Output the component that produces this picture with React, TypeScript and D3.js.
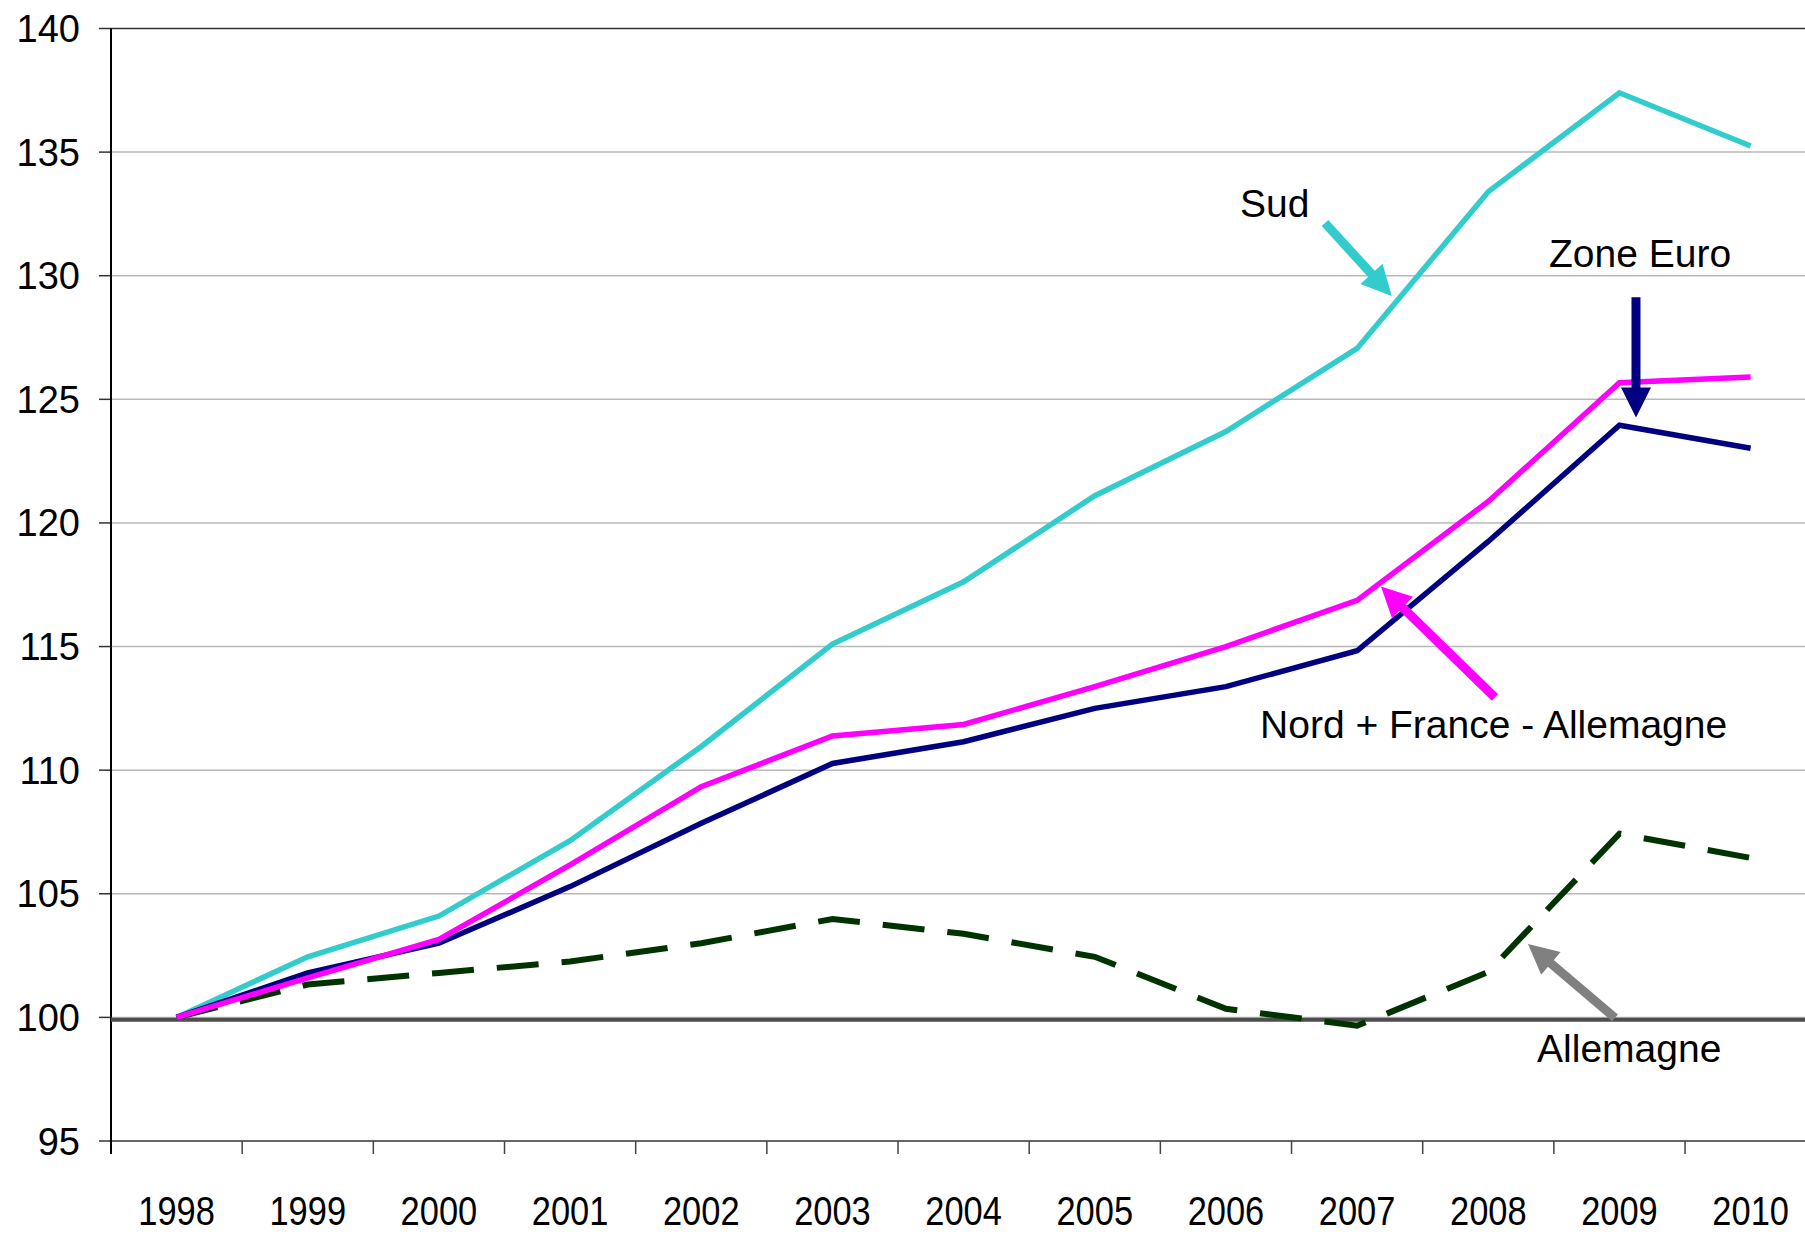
import React from "react";
import * as d3 from "d3";

const years = ["1998","1999","2000","2001","2002","2003","2004","2005","2006","2007","2008","2009","2010"];
const sud = [100, 102.45, 104.1, 107.15, 110.96, 115.1, 117.62, 121.1, 123.7, 127.06, 133.4, 137.4, 135.25];
const nordFrance = [100, 101.6, 103.15, 106.17, 109.33, 111.38, 111.85, 113.38, 115.0, 116.87, 120.87, 125.67, 125.9];
const zoneEuro = [100, 101.8, 103.0, 105.29, 107.85, 110.27, 111.15, 112.5, 113.38, 114.83, 119.25, 123.95, 123.02];
const allemagne = [100, 101.33, 101.8, 102.26, 103.0, 103.98, 103.38, 102.45, 100.35, 99.66, 101.84, 107.43, 106.45];
const yTicks = [95, 100, 105, 110, 115, 120, 125, 130, 135, 140];
const baseline = 99.9;

// annotations in data space: [index, value]
const labels = [
  { text: "Sud", at: [8.107, 132.37] },
  { text: "Zone Euro", at: [10.463, 130.34] },
  { text: "Nord + France - Allemagne", at: [8.26, 111.32] },
  { text: "Allemagne", at: [10.372, 98.2] },
];
const arrows = [
  { from: [8.755, 132.13], to: [9.264, 129.18], color: "#33CCCC" },
  { from: [11.126, 129.13], to: [11.126, 124.27], color: "#000080" },
  { from: [10.051, 112.94], to: [9.182, 117.43], color: "#FF00FF" },
  { from: [10.966, 99.98], to: [10.303, 102.97], color: "#808080" },
];

const W = 1805, H = 1234;
const left = 111, top = 28.5, bottom = 1141;
const step = 131.17;

export default function App() {
  const x = d3.scaleBand().domain(years).range([left, left + step * years.length]).padding(0);
  const y = d3.scaleLinear().domain([95, 140]).range([bottom, top]);
  const cx = (i: number) => left + (i + 0.5) * x.bandwidth();
  const line = d3.line<number>().x((_, i) => (x(years[i]) as number) + x.bandwidth() / 2).y((d) => y(d));
  const font = "'Liberation Sans', Arial, sans-serif";

  const arrowShape = (a: any, key: number) => {
    const x1 = cx(a.from[0]), y1 = y(a.from[1]);
    const x2 = cx(a.to[0]), y2 = y(a.to[1]);
    const dx = x2 - x1, dy = y2 - y1;
    const len = Math.sqrt(dx * dx + dy * dy);
    const ux = dx / len, uy = dy / len;
    const hl = 30, hw = 15;
    const bx = x2 - ux * hl, by = y2 - uy * hl;
    const px = -uy, py = ux;
    const pts = [[x2, y2], [bx + px * hw, by + py * hw], [bx - px * hw, by - py * hw]];
    return (
      <g key={key}>
        <line x1={x1} y1={y1} x2={bx + ux * 2} y2={by + uy * 2} stroke={a.color} strokeWidth={9} />
        <polygon points={pts.map((p) => p.join(",")).join(" ")} fill={a.color} />
      </g>
    );
  };

  return (
    <svg width={W} height={H} style={{ position: "absolute", left: 0, top: 0, background: "#fff" }}>
      <rect width={W} height={H} fill="#fff" />
      {yTicks.filter((t) => t !== 95).map((t) => (
        <line key={t} x1={left} x2={W} y1={y(t)} y2={y(t)} stroke={t === 140 ? "#333" : "#b8b8b8"} strokeWidth={1.5} />
      ))}
      {yTicks.map((t) => (
        <g key={"yt" + t}>
          <line x1={99} x2={left} y1={y(t)} y2={y(t)} stroke="#333" strokeWidth={1.5} />
          <text x={80} y={y(t) + 13.5} textAnchor="end" fontFamily={font} fontSize={38} fill="#000">{t}</text>
        </g>
      ))}
      <line x1={left} x2={W} y1={bottom} y2={bottom} stroke="#333" strokeWidth={1.5} />
      {years.map((yr) => (
        <line key={"xt" + yr} x1={(x(yr) as number)} x2={(x(yr) as number)} y1={bottom} y2={bottom + 13} stroke="#444" strokeWidth={1.5} />
      ))}
      {years.map((yr) => (
        <text key={"xl" + yr} transform={`translate(${(x(yr) as number) + x.bandwidth() / 2},1225) scale(0.84,1)`} textAnchor="middle" fontFamily={font} fontSize={41} fill="#000">{yr}</text>
      ))}
      <line x1={left} x2={left} y1={top} y2={bottom + 13} stroke="#000" strokeWidth={2} />
      <line x1={left} x2={W} y1={y(baseline)} y2={y(baseline)} stroke="#4d4d4d" strokeWidth={4} />
      <path d={line(allemagne) || ""} fill="none" stroke="#003300" strokeWidth={6} strokeDasharray="42,23" />
      <path d={line(sud) || ""} fill="none" stroke="#33CCCC" strokeWidth={5.5} />
      <path d={line(zoneEuro) || ""} fill="none" stroke="#000080" strokeWidth={5.5} />
      <path d={line(nordFrance) || ""} fill="none" stroke="#FF00FF" strokeWidth={5.5} />
      {arrows.map((a, i) => arrowShape(a, i))}
      {labels.map((l) => (
        <text key={l.text} x={cx(l.at[0])} y={y(l.at[1])} fontFamily={font} fontSize={39} fill="#000">{l.text}</text>
      ))}
    </svg>
  );
}
